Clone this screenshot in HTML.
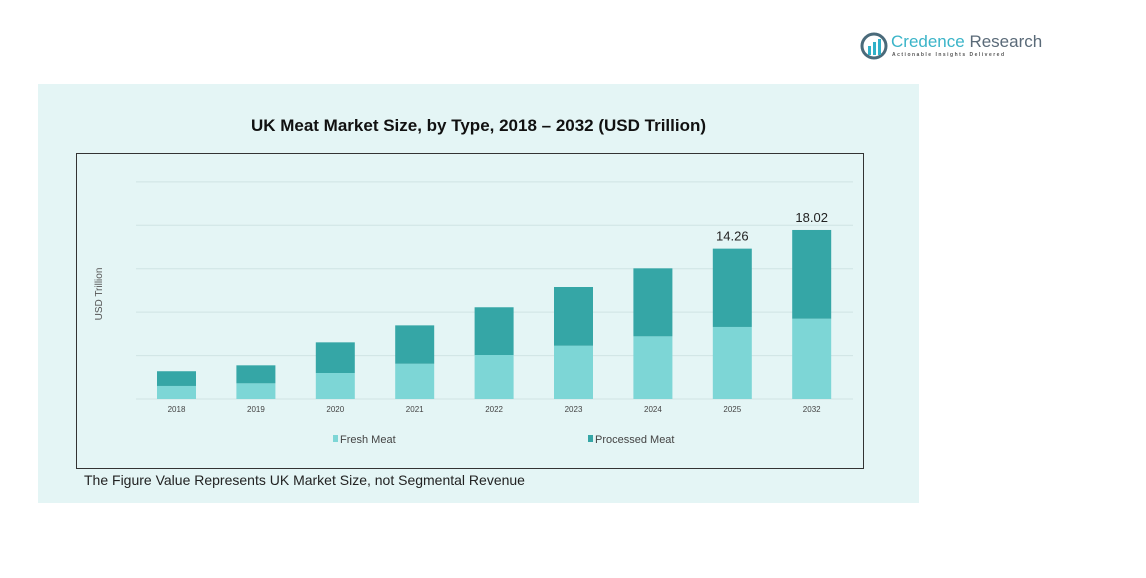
<!DOCTYPE html>
<html><head><meta charset="utf-8"><style>
body{margin:0;width:1146px;height:578px;background:#fff;position:relative;font-family:"Liberation Sans",sans-serif;overflow:hidden}
.abs{position:absolute}
</style></head><body>
<div class="abs" style="left:38px;top:84px;width:881px;height:419px;background:#e4f5f5"></div>
<div class="abs" style="left:860px;top:30px;width:180px;height:34px">
 <svg width="28" height="28" style="position:absolute;left:0;top:2px"><circle cx="14" cy="14" r="12" fill="none" stroke="#4a6a7a" stroke-width="3"/><rect x="8" y="14" width="3" height="9" fill="#2fb0c8"/><rect x="13" y="10" width="3" height="13" fill="#2fb0c8"/><rect x="18" y="7" width="3" height="16" fill="#2fb0c8"/></svg>
 <div class="abs" style="left:31px;top:2px;font-size:17px;color:#3ab4c8;white-space:nowrap">Credence <span style="color:#5a6a78">Research</span></div>
 <div class="abs" style="left:32px;top:22px;font-size:5px;letter-spacing:1.5px;color:#555;white-space:nowrap;font-weight:bold">Actionable Insights Delivered</div>
</div>
<div class="abs" style="left:38px;width:881px;top:116px;text-align:center;font-size:17px;font-weight:bold;color:#111">UK Meat Market Size, by Type, 2018 – 2032 (USD Trillion)</div>
<div class="abs" style="left:76px;top:153px;width:786px;height:314px;border:1px solid #333"></div>
<div class="abs" style="left:84px;top:472px;font-size:14px;color:#222">The Figure Value Represents UK Market Size, not Segmental Revenue</div>
<svg class="abs" style="left:0;top:0" width="1146" height="578" id="chart"></svg>
<script>
const categories=["2018","2019","2020","2021","2022","2023","2024","2025","2032"];
const freshMeat=[1.39,1.67,2.77,3.76,4.69,5.68,6.68,7.68,8.56];
const processedMeat=[1.57,1.92,3.27,4.09,5.09,6.26,7.25,8.35,9.46];
const valueLabels=["","","","","","","","14.26","18.02"];
const gridTicks=[0,1,2,3,4,5];
const NS="http://www.w3.org/2000/svg";
const svg=document.getElementById('chart');
const base=399,pxPer=9.38,gridStep=4.63;
const y=v=>base-v*pxPer;
const x=i=>176.5+i*79.4;
function mk(t,a){const e=document.createElementNS(NS,t);for(const k in a)e.setAttribute(k,a[k]);svg.appendChild(e);return e;}
gridTicks.forEach(t=>{const l=mk('line',{x1:136,x2:853,y1:y(t*gridStep),y2:y(t*gridStep),stroke:'#cfe3e3','stroke-width':1});

});
categories.forEach((c,i)=>{
 const f=mk('rect',{x:x(i)-19.5,width:39,y:y(freshMeat[i]),height:freshMeat[i]*pxPer,fill:'#7dd6d6'});
 
 
 const tot=freshMeat[i]+processedMeat[i];
 const p=mk('rect',{x:x(i)-19.5,width:39,y:y(tot),height:processedMeat[i]*pxPer,fill:'#35a6a6'});
 
 
 const t=mk('text',{x:x(i),y:412,'text-anchor':'middle','font-size':8,fill:'#444','font-family':'Liberation Sans'});t.textContent=c;
 
 
 if(valueLabels[i]){const v=mk('text',{x:x(i),y:y(tot)-8,'text-anchor':'middle','font-size':13,fill:'#222','font-family':'Liberation Sans'});v.textContent=valueLabels[i];
 
 }
});
const yt=mk('text',{x:0,y:0,transform:'translate(102,294) rotate(-90)','text-anchor':'middle','font-size':10,fill:'#555','font-family':'Liberation Sans'});yt.textContent='USD Trillion';


[["Fresh Meat","#7dd6d6",333],["Processed Meat","#35a6a6",588]].forEach(([n,c,lx])=>{
 const r=mk('rect',{x:lx,y:435,width:5,height:7,fill:c});
 
 
 const t=mk('text',{x:lx+7,y:443,'font-size':11,fill:'#444','font-family':'Liberation Sans'});t.textContent=n;
 
 
});
</script>
</body></html>
